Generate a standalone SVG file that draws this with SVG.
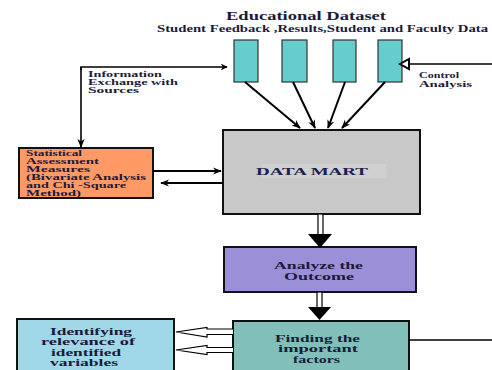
<svg xmlns="http://www.w3.org/2000/svg" width="492" height="370" viewBox="0 0 492 370">
<style>
.t{font-family:"Liberation Serif","Times New Roman",serif;font-weight:bold;font-size:9.5px;fill:#1b1b3a}
.s{font-size:7.8px}
.box{stroke:#111;stroke-width:2}
.ln{stroke:#000;stroke-width:2;fill:none}
.src{fill:#66cccc;stroke:#333;stroke-width:1.2}
</style>
<defs>
<marker id="ah" viewBox="0 0 10 10" refX="9" refY="5" markerWidth="7" markerHeight="7" markerUnits="userSpaceOnUse" orient="auto">
<path d="M0,0 L10,5 L0,10 L3,5 z" fill="#000"/>
</marker>
<marker id="ah2" viewBox="0 0 10 10" refX="9" refY="5" markerWidth="9" markerHeight="9" markerUnits="userSpaceOnUse" orient="auto">
<path d="M0,1 L10,5 L0,9 L3,5 z" fill="#000"/>
</marker>
</defs>
<rect width="492" height="370" fill="#fff"/>

<text class="t" x="226" y="20" textLength="160" lengthAdjust="spacingAndGlyphs" style="font-size:12px">Educational  Dataset</text>
<text class="t" x="157" y="32" textLength="331" lengthAdjust="spacingAndGlyphs" style="font-size:9.5px">Student Feedback ,Results,Student and Faculty Data</text>

<g id="src1"><rect class="src" x="234" y="40" width="24" height="42"/></g>
<g id="src2"><rect class="src" x="282" y="40" width="25" height="42"/></g>
<g id="src3"><rect class="src" x="333" y="40" width="23" height="42"/></g>
<g id="src4"><rect class="src" x="378" y="40" width="24" height="42"/></g>

<g id="datamart">
<rect class="box" x="223" y="130" width="197" height="84" fill="#c8c8c8"/>
<rect x="262" y="164" width="124" height="14" fill="#d0d0d0"/>
<text class="t" x="256" y="175" textLength="112" lengthAdjust="spacingAndGlyphs" style="font-size:11px;fill:#1a2050">DATA MART</text>
</g>

<g id="stat">
<rect class="box" x="19" y="148" width="134" height="50" fill="#ff9966"/>
<text class="t s" x="26" y="156" textLength="56" lengthAdjust="spacingAndGlyphs">Statistical</text>
<text class="t s" x="26" y="164" textLength="73" lengthAdjust="spacingAndGlyphs">Assessment</text>
<text class="t s" x="26" y="172" textLength="64" lengthAdjust="spacingAndGlyphs">Measures</text>
<text class="t s" x="26" y="180" textLength="120" lengthAdjust="spacingAndGlyphs">(Bivariate Analysis</text>
<text class="t s" x="26" y="188" textLength="100" lengthAdjust="spacingAndGlyphs">and Chi -Square</text>
<text class="t s" x="26" y="196" textLength="55" lengthAdjust="spacingAndGlyphs">Method)</text>
</g>

<g id="analyze">
<rect class="box" x="224" y="247" width="192" height="45" fill="#9b8fd8"/>
<text class="t" x="274" y="269" textLength="89" lengthAdjust="spacingAndGlyphs">Analyze the</text>
<text class="t" x="284" y="280" textLength="70" lengthAdjust="spacingAndGlyphs">Outcome</text>
</g>

<g id="finding">
<rect class="box" x="233" y="321" width="176" height="52" fill="#80c0b8"/>
<text class="t" x="275" y="342" textLength="85" lengthAdjust="spacingAndGlyphs">Finding the</text>
<text class="t" x="278" y="352" textLength="80" lengthAdjust="spacingAndGlyphs">important</text>
<text class="t" x="293" y="363" textLength="47" lengthAdjust="spacingAndGlyphs">factors</text>
</g>

<g id="identify">
<rect class="box" x="17" y="319" width="157" height="54" fill="#a0d8e8"/>
<text class="t" x="50" y="335" textLength="82" lengthAdjust="spacingAndGlyphs">Identifying</text>
<text class="t" x="41" y="345" textLength="94" lengthAdjust="spacingAndGlyphs">relevance of</text>
<text class="t" x="51" y="356" textLength="70" lengthAdjust="spacingAndGlyphs">identified</text>
<text class="t" x="50" y="366" textLength="68" lengthAdjust="spacingAndGlyphs">variables</text>
</g>

<g id="labels">
<text class="t s" x="88" y="77" textLength="74" lengthAdjust="spacingAndGlyphs">Information</text>
<text class="t s" x="88" y="85" textLength="90" lengthAdjust="spacingAndGlyphs">Exchange with</text>
<text class="t s" x="88" y="93" textLength="51" lengthAdjust="spacingAndGlyphs">Sources</text>
<text class="t s" x="419" y="78" textLength="40" lengthAdjust="spacingAndGlyphs">Control</text>
<text class="t s" x="419" y="87" textLength="53" lengthAdjust="spacingAndGlyphs">Analysis</text>
</g>

<g id="connectors">
<line class="ln" x1="245" y1="82" x2="300" y2="128" marker-end="url(#ah2)"/>
<line class="ln" x1="293" y1="82" x2="315" y2="128" marker-end="url(#ah2)"/>
<line class="ln" x1="345" y1="82" x2="328" y2="128" marker-end="url(#ah2)"/>
<line class="ln" x1="385" y1="82" x2="342" y2="128" marker-end="url(#ah2)"/>
<polyline class="ln" points="81,70 81,67 227,67" marker-end="url(#ah)" style="stroke-width:1.6"/>
<line class="ln" x1="81" y1="67" x2="81" y2="147" marker-end="url(#ah2)" style="stroke-width:1.6"/>
<line class="ln" x1="492" y1="64" x2="404" y2="64" style="stroke-width:1.6"/>
<path d="M400,64 L409,59 L409,69 z" fill="#fff" stroke="#000" stroke-width="2"/>
<line class="ln" x1="153" y1="171" x2="221" y2="171" marker-end="url(#ah2)"/>
<line class="ln" x1="223" y1="183" x2="161" y2="183" marker-end="url(#ah2)"/>
<rect x="318" y="214" width="5" height="22" fill="#fff" stroke="#000" stroke-width="1.2"/>
<path d="M308,234 L332,234 L320,248 z" fill="#000"/>
<rect x="317" y="292" width="5" height="17" fill="#fff" stroke="#000" stroke-width="1.2"/>
<path d="M308,307 L331,307 L319.5,320 z" fill="#000"/>
<path d="M233,329 L207,329 L207,327.5 L176,332 L207,337 L207,334.5 L233,334.5" fill="#fff" stroke="#000" stroke-width="1.2"/>
<path d="M233,347.5 L207,347.5 L207,345.5 L176,350 L207,354.5 L207,352.5 L233,352.5" fill="#fff" stroke="#000" stroke-width="1.2"/>
<line class="ln" x1="409" y1="340" x2="492" y2="340" style="stroke-width:1.6"/>
</g>
</svg>
